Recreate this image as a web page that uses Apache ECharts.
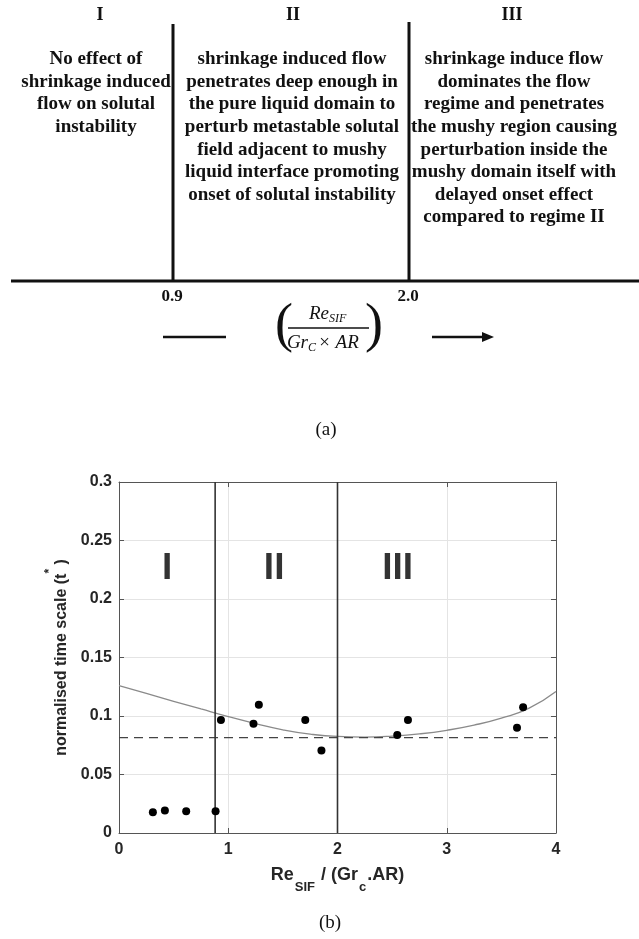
<!DOCTYPE html>
<html>
<head>
<meta charset="utf-8">
<script src="https://cdn.jsdelivr.net/npm/echarts@6/dist/echarts.min.js"></script>
<style>
html,body{margin:0;padding:0;background:#fff;}
#chart{width:639px;height:939px;}
</style>
</head>
<body>
<div id="chart"></div>
<script>
// ---------- data (panel a: regime diagram) ----------
const regimeNames = ['I', 'II', 'III'];
const regimeDescriptions = [
  ['No effect of', 'shrinkage induced', 'flow on solutal', 'instability'],
  ['shrinkage induced flow', 'penetrates deep enough in', 'the pure liquid domain to',
   'perturb metastable solutal', 'field adjacent to mushy', 'liquid interface promoting',
   'onset of solutal instability'],
  ['shrinkage induce flow', 'dominates the flow', 'regime and penetrates',
   'the mushy region causing', 'perturbation inside the', 'mushy domain itself with',
   'delayed onset effect', 'compared to regime II']
];
const boundaryTickLabels = ['0.9', '2.0'];

// ---------- data (panel b: scatter plot) ----------
const pointX = [0.31, 0.42, 0.615, 0.884, 0.933, 1.231, 1.28, 1.705, 1.853, 2.547, 2.645, 3.643, 3.699];
const pointY = [0.0178, 0.0192, 0.0186, 0.0186, 0.0966, 0.0934, 0.1097, 0.0966, 0.0705, 0.0837, 0.0966, 0.0900, 0.1074];
const fitX = [0, 0.25, 0.5, 0.75, 1, 1.25, 1.5, 1.75, 2, 2.25, 2.5, 2.75, 3, 3.25, 3.5, 3.75, 4];
const fitY = [0.126, 0.1193, 0.1126, 0.106, 0.0995, 0.0935, 0.0882, 0.0845, 0.0825, 0.082, 0.0828, 0.0847, 0.0878, 0.0922, 0.0982, 0.1065, 0.121];
const thresholdY = 0.0815;
const regimeBounds = [0.88, 2.0];
const regionLabelX = [0.44, 1.42, 2.55];
const regionLabelY = 0.226;
const xTicks = [0, 1, 2, 3, 4];
const yTicks = [0, 0.05, 0.1, 0.15, 0.2, 0.25, 0.3];

// ---------- chart ----------
const chart = echarts.init(document.getElementById('chart'), null, {renderer: 'canvas'});
const SERIF = '"Liberation Serif", "Times New Roman", serif';
const SANS = '"Liberation Sans", Arial, sans-serif';
const INK = '#111';

function txt(x, y, text, size, opts) {
  opts = opts || {};
  return {
    type: 'text', x: x, y: y, silent: true,
    style: {
      text: text, fontSize: size, fontFamily: opts.family || SERIF,
      fontWeight: opts.weight || 'normal', fontStyle: opts.style || 'normal',
      fill: opts.fill || INK, align: opts.align || 'center', textAlign: opts.align || 'center',
      verticalAlign: opts.va || 'middle', textVerticalAlign: opts.va || 'middle',
      lineHeight: opts.lineHeight
    }
  };
}
function ln(x1, y1, x2, y2, w) {
  return {type: 'line', silent: true, shape: {x1: x1, y1: y1, x2: x2, y2: y2},
          style: {stroke: INK, lineWidth: w}};
}

const headerX = [100, 293, 512];
const colX = [96, 292, 514];
const graphics = [];
regimeNames.forEach((n, i) => graphics.push(txt(headerX[i], 15, n, 18, {weight: 'bold'})));
regimeDescriptions.forEach((lines, i) => graphics.push(
  txt(colX[i], 48, lines.join('\n'), 19, {weight: 'bold', va: 'top', lineHeight: 22.6})));
graphics.push(ln(173, 24, 173, 281, 3));
graphics.push(ln(409, 22, 409, 281, 3));
graphics.push(ln(11, 281, 639, 281, 3));
graphics.push(txt(172, 297, boundaryTickLabels[0], 17, {weight: 'bold'}));
graphics.push(txt(408, 297, boundaryTickLabels[1], 17, {weight: 'bold'}));
// formula
graphics.push(txt(284, 327, '(', 54, {}));
graphics.push(txt(374, 327, ')', 54, {}));
graphics.push(txt(329, 314, 'Re', 19, {style: 'italic', align: 'right'}));
graphics.push(txt(329, 319, 'SIF', 12, {style: 'italic', align: 'left'}));
graphics.push(ln(288, 328, 369, 328, 1.5));
graphics.push(txt(308, 343, 'Gr', 19, {style: 'italic', align: 'right'}));
graphics.push(txt(308, 348, 'C', 12, {style: 'italic', align: 'left'}));
graphics.push(txt(318, 343, '\u00d7 AR', 19, {style: 'italic', align: 'left'}));
graphics.push(ln(163, 337, 226, 337, 2.5));
graphics.push(ln(432, 337, 486, 337, 2.5));
graphics.push({type: 'polygon', silent: true, shape: {points: [[494, 337], [482, 332], [482, 342]]},
               style: {fill: INK}});
graphics.push(txt(326, 430, '(a)', 19, {}));
graphics.push(txt(330, 923, '(b)', 19, {}));

const axisCommon = {
  type: 'value',
  axisLine: {show: true, onZero: false, lineStyle: {color: '#555', width: 1}},
  axisTick: {show: true, inside: true, length: 5, lineStyle: {color: '#555'}},
};

const series = [
  {
    type: 'line', name: 'fit', data: fitX.map((x, i) => [x, fitY[i]]),
    smooth: true, showSymbol: false, symbol: 'none',
    lineStyle: {color: '#8a8a8a', width: 1.3}, z: 2, silent: true
  },
  {
    type: 'line', name: 'threshold', data: [[xTicks[0], thresholdY], [xTicks[xTicks.length - 1], thresholdY]],
    showSymbol: false, symbol: 'none',
    lineStyle: {color: '#444', width: 1.3, type: [9, 6]}, z: 2, silent: true
  }
];
regimeBounds.forEach(b => series.push({
  type: 'line', data: [[b, yTicks[0]], [b, yTicks[yTicks.length - 1]]],
  showSymbol: false, symbol: 'none', lineStyle: {color: '#333', width: 1.6}, z: 3, silent: true
}));
series.push({
  type: 'scatter', name: 'data', data: pointX.map((x, i) => [x, pointY[i]]),
  symbol: 'circle', symbolSize: 8, itemStyle: {color: '#000', opacity: 1}, z: 5
});
series.push({
  type: 'scatter', name: 'regions', symbolSize: 0, silent: true,
  data: regimeNames.map((n, i) => ({name: n, value: [regionLabelX[i], regionLabelY]})),
  label: {show: true, position: 'inside', formatter: p => p.name,
          fontFamily: SANS, fontWeight: 'bold', fontSize: 37, color: '#000'},
  z: 6
});

chart.setOption({
  animation: false,
  backgroundColor: '#fff',
  graphic: {elements: graphics},
  grid: {left: 119, right: 83, top: 482, bottom: 106, containLabel: false},
  xAxis: [
    Object.assign({}, axisCommon, {
      position: 'bottom', min: 0, max: 4, interval: 1,
      axisLabel: {show: true, margin: 9, fontFamily: SANS, fontWeight: 'bold', fontSize: 16, color: '#262626'},
      splitLine: {show: true, lineStyle: {color: '#e4e4e4', width: 1}},
      name: '{a|Re}{b|SIF}{a| / (Gr}{b|c}{a|.AR)}',
      nameLocation: 'middle', nameGap: 33,
      nameTextStyle: {
        rich: {
          a: {fontFamily: SANS, fontWeight: 'bold', fontSize: 18, color: '#262626', lineHeight: 22, verticalAlign: 'top'},
          b: {fontFamily: SANS, fontWeight: 'bold', fontSize: 13, color: '#262626', lineHeight: 14, verticalAlign: 'top', padding: [15, 1, 0, 1]}
        }
      }
    }),
    Object.assign({}, axisCommon, {
      position: 'top', min: 0, max: 4, interval: 1,
      axisLabel: {show: false}, splitLine: {show: false}
    })
  ],
  yAxis: [
    Object.assign({}, axisCommon, {
      position: 'left', min: 0, max: 0.3, interval: 0.05,
      axisLabel: {show: true, margin: 7, fontFamily: SANS, fontWeight: 'bold', fontSize: 16, color: '#262626',
                  formatter: v => String(Math.round(v * 1000) / 1000)},
      splitLine: {show: true, lineStyle: {color: '#e4e4e4', width: 1}},
      name: '{a|normalised time scale (t}{p|*}{a| )}',
      nameLocation: 'middle', nameGap: 46,
      nameTextStyle: {
        rich: {
          a: {fontFamily: SANS, fontWeight: 'bold', fontSize: 16, color: '#262626', lineHeight: 26, verticalAlign: 'bottom'},
          p: {fontFamily: SANS, fontWeight: 'bold', fontSize: 12, color: '#262626', lineHeight: 12, verticalAlign: 'top'}
        }
      }
    }),
    Object.assign({}, axisCommon, {
      position: 'right', min: 0, max: 0.3, interval: 0.05,
      axisLabel: {show: false}, splitLine: {show: false}
    })
  ],
  series: series
});
</script>
</body>
</html>
